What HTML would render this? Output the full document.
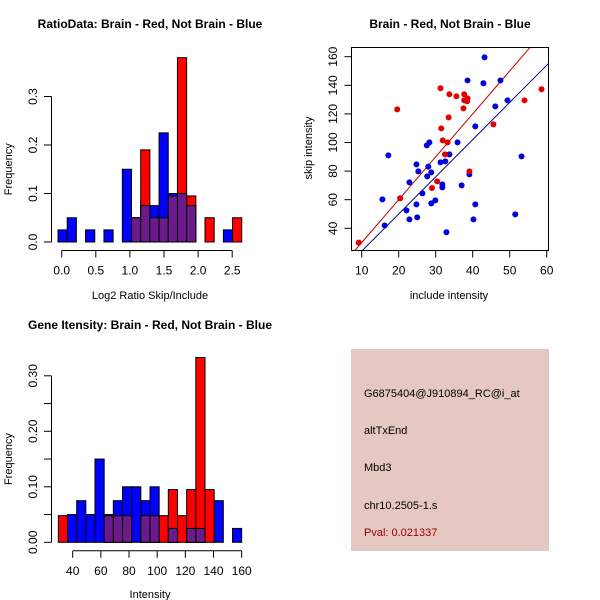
<!DOCTYPE html>
<html><head><meta charset="utf-8"><style>body{margin:0;background:#fff}svg{display:block;font-family:"Liberation Sans",sans-serif}</style></head>
<body>
<svg id="s" width="600" height="600" xmlns="http://www.w3.org/2000/svg">
<rect x="351" y="349" width="198" height="202" fill="#E6C8C2"/>
<g font-size="11" fill="#000">
<text x="364" y="397">G6875404@J910894_RC@i_at</text>
<text x="364" y="434">altTxEnd</text>
<text x="364" y="471">Mbd3</text>
<text x="364" y="509">chr10.2505-1.s</text>
<text x="364" y="536" fill="#A00000">Pval: 0.021337</text>
</g>
</svg>
<script>
// Histogram 1 data (RatioData)
const ratioBinStart = -0.054, ratioBinWidth = 0.1347;
const ratioBlue = [0.025,0.05,0,0.025,0,0.025,0,0.15,0.05,0.075,0.075,0.225,0.1,0.1,0.075,0,0,0,0.025,0];
const ratioRed  = [0,0,0,0,0,0,0,0,0.05,0.19,0.05,0.05,0.095,0.38,0.095,0,0.05,0,0,0.05];
const ratioXTicks = [0,0.5,1.0,1.5,2.0,2.5];
const ratioXTickLabels = ["0.0","0.5","1.0","1.5","2.0","2.5"];
const ratioYTicks = [0,0.1,0.2,0.3];
const ratioYTickLabels = ["0.0","0.1","0.2","0.3"];
// Histogram 2 data (Gene Intensity)
const intBinStart = 29.8, intBinWidth = 6.51;
const intBlue = [0,0.05,0.075,0.05,0.15,0.05,0.075,0.1,0.1,0.075,0.1,0,0.025,0,0.025,0.025,0,0.075,0,0.025];
const intRed  = [0.048,0,0,0,0,0.048,0.048,0.048,0,0.048,0.048,0.048,0.095,0.048,0.095,0.333,0.095,0,0,0];
const intXTicks = [40,60,80,100,120,140,160];
const intYTicks = [0,0.05,0.10,0.15,0.20,0.25,0.30];
const intYTickLabels = ["0.00","","0.10","","0.20","","0.30"];
// Scatter data
const redX = [9.2,19.6,31.3,33.7,35.6,37.7,37.7,38.6,38.5,37.5,33.5,31.5,31.9,33.2,32.5,29,30.4,39.1,45.6,54,58.6,20.4];
const redY = [30,123.2,137.9,133.7,132.3,133.7,129.5,130.9,128.8,123.9,117.6,109.9,101.5,100.1,91.7,68.2,72.8,79.8,112.7,129.5,137.2,61];
const blueX = [15.6,16.2,17.2,20.4,22.1,22.9,22.9,24.8,24.8,25,25.3,27.6,28.3,28,27.7,28.8,26.4,28.8,29.9,31.3,32.6,33.7,31.8,31.8,32.9,35.9,37,38.6,39.1,40.7,40.7,40.2,43.2,42.9,47.5,46.1,49.4,51.5,53.2];
const blueY = [60.2,42,91,61,52.5,72.1,46.2,84.7,56.7,47.6,79.8,98,100.1,83.1,76.3,79.1,64.4,57.4,59.5,86.1,86.8,91.7,70.7,68.6,37.2,100.1,70,143.4,77.7,111.3,56.7,46.2,159.5,141.4,143.4,125.3,129.5,49.7,90.3];
const redFit = [0, 3.0];   // intercept, slope
const blueFit = [-2, 2.6];
const scXTicks = [10,20,30,40,50,60];
const scYTicks = [40,60,80,100,120,140,160];

const svg = document.getElementById('s');
const NS = 'http://www.w3.org/2000/svg';
function mk(tag, attrs, parent){const e=document.createElementNS(NS,tag);for(const k in attrs)e.setAttribute(k,attrs[k]);(parent||svg).appendChild(e);return e;}
function txt(x,y,s,size,opts,parent){const t=mk('text',Object.assign({x:x,y:y,'font-size':size,'text-anchor':'middle'},opts||{}),parent);t.textContent=s;return t;}

function hist(cfg){
  const g=mk('g',{});
  
  
  const xs=v=>cfg.x0px+(v-cfg.x0)*cfg.xk;
  const ys=v=>cfg.y0px-v*cfg.yk;
  const draw=(arr,col,nm)=>arr.forEach((v,i)=>{if(v<=0)return;const a=xs(cfg.bs+i*cfg.bw),b=xs(cfg.bs+(i+1)*cfg.bw);
    const r=mk('rect',{x:a,y:ys(v),width:b-a,height:ys(0)-ys(v),fill:col,stroke:'#000','stroke-width':1},g);
    
    });
  draw(cfg.blue,'#0000FF','blue');
  draw(cfg.red,'#FF0000','red');
  draw(cfg.blue.map((v,i)=>Math.min(v,cfg.red[i])),'#6A1A8A','overlap');
  // y axis
  const ya=mk('g',{},g);
  
  
  const yt=cfg.yticks;
  mk('line',{x1:51.5,x2:51.5,y1:ys(yt[0]),y2:ys(yt[yt.length-1]),stroke:'#000'},ya);
  yt.forEach((v,i)=>{mk('line',{x1:44,x2:51.5,y1:ys(v),y2:ys(v),stroke:'#000'},ya);
    if(cfg.ylab[i]){const y=ys(v);txt(37,y,cfg.ylab[i],12,{transform:`rotate(-90 37 ${y})`},ya);}});
  const xa=mk('g',{},g);
  
  
  const xt=cfg.xticks;const ay=cfg.y0px+8.5;
  mk('line',{x1:xs(xt[0]),x2:xs(xt[xt.length-1]),y1:ay,y2:ay,stroke:'#000'},xa);
  xt.forEach((v,i)=>{mk('line',{x1:xs(v),x2:xs(v),y1:ay,y2:ay+7,stroke:'#000'},xa);txt(xs(v),ay+24,cfg.xlab[i],12,{},xa);});
  const t=txt(150,cfg.titleY,cfg.title,12,{'font-weight':'bold'},g);
  
  
  const xl=txt(150,cfg.xlY,cfg.xl,11,{},g);
  
  
  const cy=(ys(yt[0])+ys(yt[yt.length-1]))/2;
  const yl=txt(12,cy,'Frequency',11,{transform:`rotate(-90 12 ${cy})`},g);
  
  
}
hist({name:'ratio-histogram',x0:0,x0px:61.7,xk:68.2,y0px:242,yk:485,bs:ratioBinStart,bw:ratioBinWidth,blue:ratioBlue,red:ratioRed,
  yticks:ratioYTicks,ylab:ratioYTickLabels,xticks:ratioXTicks,xlab:ratioXTickLabels,title:'RatioData: Brain - Red, Not Brain - Blue',titleY:28,xl:'Log2 Ratio Skip/Include',xlY:299});
hist({name:'intensity-histogram',x0:40,x0px:72.7,xk:1.408,y0px:542.3,yk:555,bs:intBinStart,bw:intBinWidth,blue:intBlue,red:intRed,
  yticks:intYTicks,ylab:intYTickLabels,xticks:intXTicks,xlab:intXTicks.map(String),title:'Gene Itensity: Brain - Red, Not Brain - Blue',titleY:329,xl:'Intensity',xlY:598});

// Scatter
(function(){
  const g=mk('g',{});
  
  
  const xs=v=>361.7+(v-10)*3.7;
  const ys=v=>56.7+(160-v)*1.43;
  const L=351.5,R=548.5,T=47.5,B=250.5;
  const cp=mk('clipPath',{id:'cp'},g);mk('rect',{x:L,y:T,width:R-L,height:B-T},cp);
  const fit=(f,col,nm)=>{const x1=8,x2=62;const l=mk('line',{x1:xs(x1),y1:ys(f[0]+f[1]*x1),x2:xs(x2),y2:ys(f[0]+f[1]*x2),stroke:col,'clip-path':'url(#cp)'},g);
    
    };
  fit(redFit,'#C00000','red-fit-line');
  fit(blueFit,'#000090','blue-fit-line');
  blueX.forEach((x,i)=>{const c=mk('circle',{cx:xs(x),cy:ys(blueY[i]),r:3,fill:'#0000DD'},g);
    
    });
  redX.forEach((x,i)=>{const c=mk('circle',{cx:xs(x),cy:ys(redY[i]),r:3,fill:'#E00000'},g);
    
    });
  const box=mk('rect',{x:L,y:T,width:R-L,height:B-T,fill:'none',stroke:'#000'},g);
  
  
  scXTicks.forEach(v=>{mk('line',{x1:xs(v),x2:xs(v),y1:B,y2:B+7,stroke:'#000'},g);txt(xs(v),B+24,String(v),12,{},g);});
  scYTicks.forEach(v=>{const y=ys(v);mk('line',{x1:L-7,x2:L,y1:y,y2:y,stroke:'#000'},g);txt(337,y,String(v),12,{transform:`rotate(-90 337 ${y})`},g);});
  const t=txt(450,28,'Brain - Red, Not Brain - Blue',12,{'font-weight':'bold'},g);
  
  
  const xl=txt(449,299,'include intensity',11,{},g);
  
  
  const yl=txt(312,148,'skip intensity',11,{transform:'rotate(-90 312 148)'},g);
  
  
})();
</script>
</body></html>
